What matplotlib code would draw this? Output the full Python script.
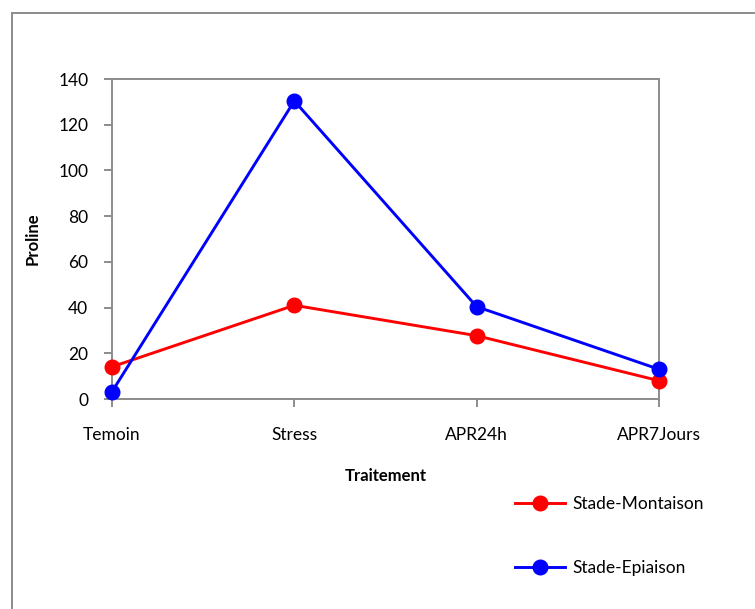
import numpy as np
import matplotlib
matplotlib.use("Agg")
import matplotlib.pyplot as plt
from matplotlib.patches import Rectangle
from matplotlib.lines import Line2D

plt.rcParams['font.family'] = ['Lato', 'DejaVu Sans']

categories = ['Temoin', 'Stress', 'APR24h', 'APR7Jours']
montaison = [14.1, 41.0, 27.7, 8.0]
epiaison = [3.2, 130.4, 40.4, 13.0]

W, H = 755, 609
fig = plt.figure(figsize=(W / 100, H / 100), dpi=100)

# outer chart frame (only left and top visible in the picture)
fig.patches.append(Rectangle((12 / W, -0.1), 1.2, 1 - 12.5 / H + 0.1,
                             transform=fig.transFigure, fill=False,
                             edgecolor='#8c8c8c', linewidth=1.4))

ax = fig.add_axes([112 / W, 1 - 399 / H, (659 - 112) / W, (399 - 79) / H])
x = np.arange(len(categories))
ax.plot(x, montaison, color='#ff0000', lw=2.1, marker='o', ms=10.5,
        clip_on=False, zorder=3, label='Stade-Montaison')
ax.plot(x, epiaison, color='#0000ff', lw=2.1, marker='o', ms=10.5,
        clip_on=False, zorder=4, label='Stade-Epiaison')

ax.set_xlim(0, 3)
ax.set_ylim(0, 140)
ax.set_yticks(range(0, 141, 20))
ax.set_xticks(x)
ax.set_xticklabels(categories)
for s in ax.spines.values():
    s.set_color('#8c8c8c')
    s.set_linewidth(1.4)
ax.tick_params(axis='both', colors='#8c8c8c', labelcolor='black',
               length=6, width=1.4, labelsize=12.5)
ax.tick_params(axis='y', pad=11)
ax.tick_params(axis='x', pad=14)
ax.set_ylabel('Proline', fontsize=12, fontweight='bold', labelpad=13)
ax.set_xlabel('Traitement', fontsize=12, fontweight='bold', labelpad=18.5)

handles = [Line2D([], [], color='#ff0000', lw=2.1, marker='o', ms=10.5),
           Line2D([], [], color='#0000ff', lw=2.1, marker='o', ms=10.5)]
fig.legend(handles, ['Stade-Montaison', 'Stade-Epiaison'],
           loc='upper left', bbox_to_anchor=(499 / W, 1 - 480 / H),
           frameon=False, fontsize=12.5, handlelength=2.9, labelspacing=2.77,
           handletextpad=0.4)

fig.savefig('out.png', dpi=100)
